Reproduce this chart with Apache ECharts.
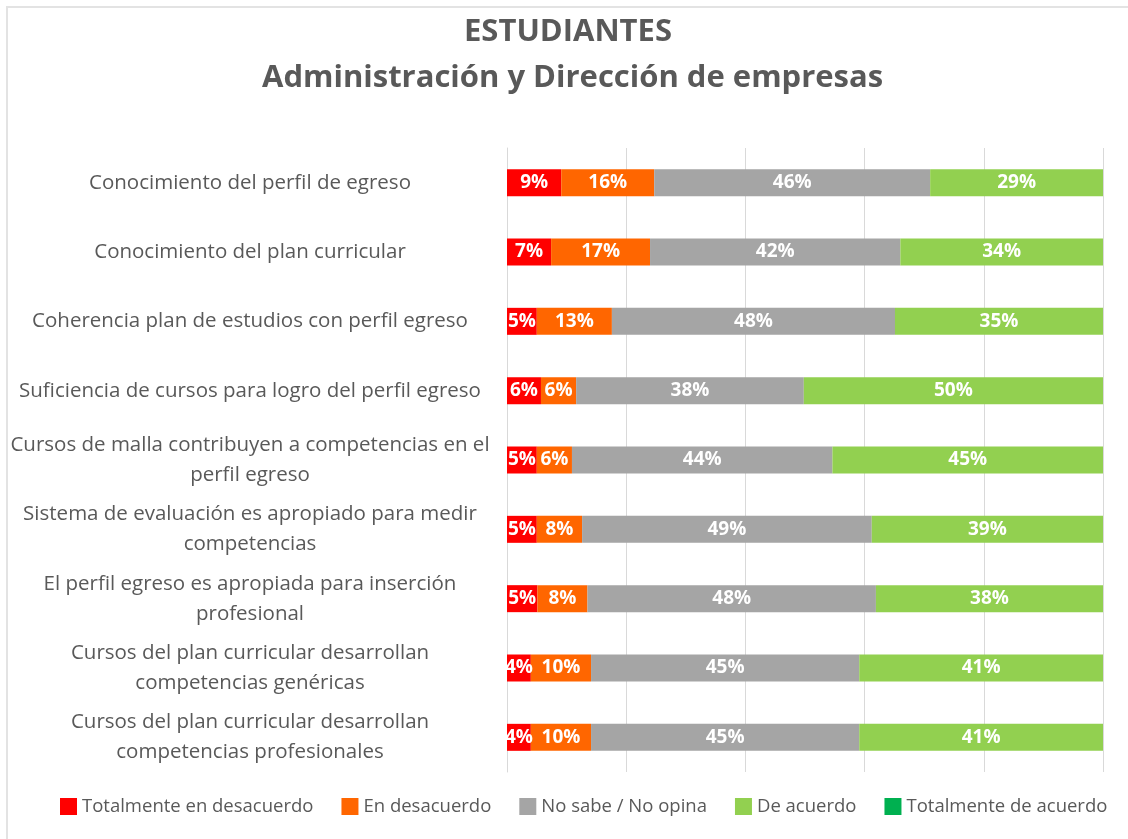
<!DOCTYPE html>
<html>
<head>
<meta charset="utf-8">
<script src="https://cdn.jsdelivr.net/npm/echarts@6/dist/echarts.min.js"></script>
<style>
  html, body { margin: 0; padding: 0; background: #fff; }
  #chart { width: 1128px; height: 839px; }
</style>
</head>
<body>
<div id="chart"></div>
<script>
// Survey items (top to bottom)
const categories = [
  'Conocimiento del perfil de egreso',
  'Conocimiento del plan curricular',
  'Coherencia plan de estudios con perfil egreso',
  'Suficiencia de cursos para logro del perfil egreso',
  'Cursos de malla contribuyen a competencias en el\nperfil egreso',
  'Sistema de evaluación es apropiado para medir\ncompetencias',
  'El perfil egreso es apropiada para inserción\nprofesional',
  'Cursos del plan curricular desarrollan\ncompetencias genéricas',
  'Cursos del plan curricular desarrollan\ncompetencias profesionales'
];

const seriesNames = [
  'Totalmente en desacuerdo',
  'En desacuerdo',
  'No sabe / No opina',
  'De acuerdo',
  'Totalmente de acuerdo'
];

// Share of answers per item, in percent
const totalDesacuerdo = [9.1, 7.4, 5.0, 5.7, 5.0, 5.0, 5.1, 4.0, 4.0];
const enDesacuerdo    = [15.6, 16.6, 12.6, 5.9, 5.9, 7.6, 8.4, 10.1, 10.1];
const noSabe          = [46.3, 42.0, 47.5, 38.2, 43.7, 48.6, 48.4, 45.0, 45.0];
const deAcuerdo       = [29.0, 34.0, 34.9, 50.2, 45.4, 38.8, 38.1, 40.9, 40.9];
const totalAcuerdo    = [0, 0, 0, 0, 0, 0, 0, 0, 0];

const seriesData = [totalDesacuerdo, enDesacuerdo, noSabe, deAcuerdo, totalAcuerdo];
const colors = ['#FF0000', '#FF6600', '#A5A5A5', '#92D050', '#00B050'];

const FONT = '"Open Sans", sans-serif';
const TEXT = '#595959';

const chart = echarts.init(document.getElementById('chart'), null, { renderer: 'canvas' });

chart.setOption({
  backgroundColor: '#ffffff',
  animation: false,
  color: colors,
  title: [
    {
      text: 'ESTUDIANTES',
      left: 459,
      top: 12,
      textStyle: { fontFamily: FONT, fontSize: 31, fontWeight: 'bold', color: TEXT }
    },
    {
      text: 'Administración y Dirección de empresas',
      left: 257,
      top: 58,
      textStyle: { fontFamily: FONT, fontSize: 31, fontWeight: 'bold', color: TEXT }
    }
  ],
  legend: {
    bottom: 18,
    left: 55,
    icon: 'rect',
    itemWidth: 17,
    itemHeight: 17,
    itemGap: 28,
    data: seriesNames,
    textStyle: { fontFamily: FONT, fontSize: 18.5, color: TEXT }
  },
  grid: { left: 507, right: 25, top: 148, height: 624 },
  xAxis: {
    type: 'value',
    min: 0,
    max: 100,
    interval: 20,
    axisLabel: { show: false },
    axisLine: { show: false },
    axisTick: { show: false },
    splitLine: { lineStyle: { color: '#D9D9D9', width: 1 } }
  },
  yAxis: {
    type: 'category',
    inverse: true,
    data: categories,
    axisLine: { show: true, lineStyle: { color: '#D9D9D9' } },
    axisTick: { show: false },
    axisLabel: {
      margin: 257,
      align: 'center',
      fontFamily: FONT,
      fontSize: 20.5,
      lineHeight: 30,
      color: TEXT
    }
  },
  series: seriesNames.map((name, i) => ({
    name: name,
    type: 'bar',
    stack: 'total',
    barWidth: 27,
    data: seriesData[i],
    itemStyle: { color: colors[i] },
    label: {
      show: true,
      position: 'inside',
      color: '#ffffff',
      fontFamily: FONT,
      fontSize: 19,
      fontWeight: 'bold',
      formatter: p => (p.value > 0 ? Math.round(p.value) + '%' : '')
    }
  })),
  graphic: [
    {
      type: 'line',
      shape: { x1: 6, y1: 7, x2: 1128, y2: 7 },
      style: { stroke: '#E3E3E3', lineWidth: 2 },
      silent: true
    },
    {
      type: 'line',
      shape: { x1: 7, y1: 6, x2: 7, y2: 839 },
      style: { stroke: '#E3E3E3', lineWidth: 2 },
      silent: true
    }
  ]
});
</script>
</body>
</html>
